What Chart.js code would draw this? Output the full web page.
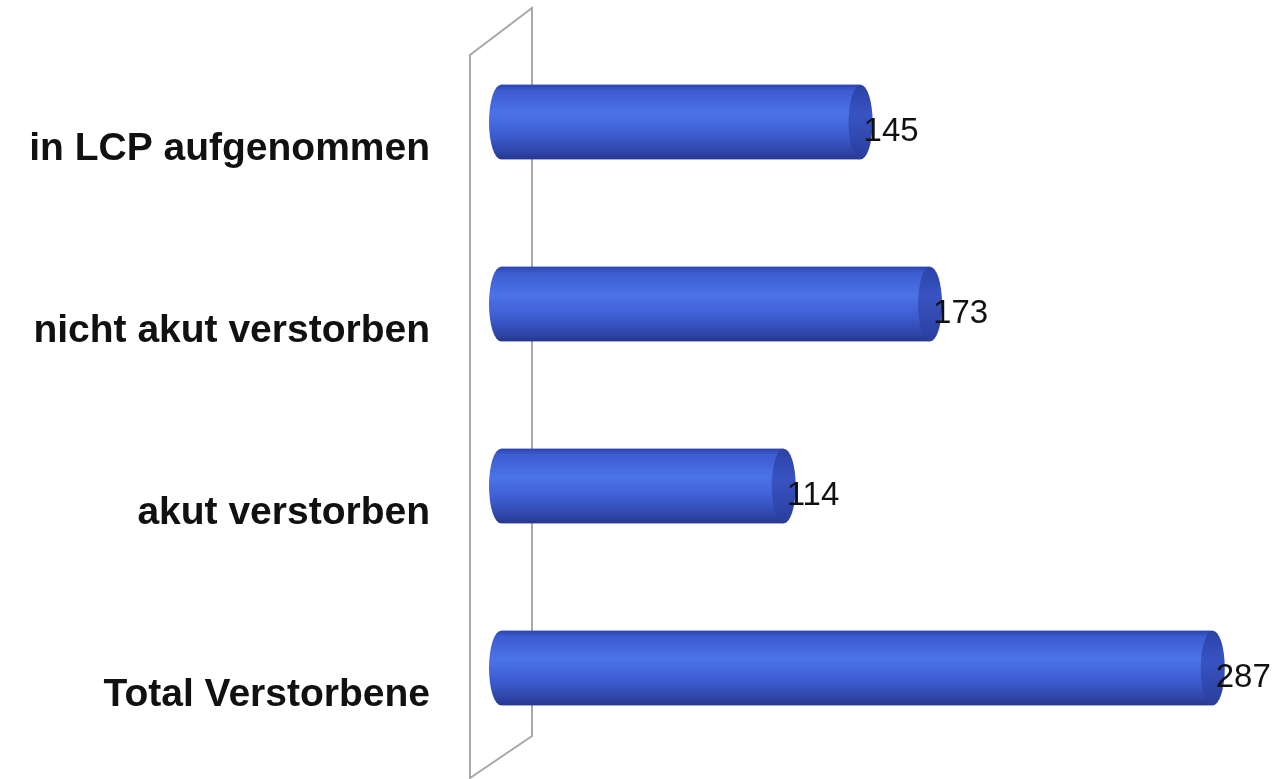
<!DOCTYPE html>
<html>
<head>
<meta charset="utf-8">
<script src="https://cdn.jsdelivr.net/npm/chart.js@4.4.0/dist/chart.umd.min.js"></script>
<style>
  html, body { margin: 0; padding: 0; background: #fff; }
  #wrap { width: 1274px; height: 779px; }
</style>
</head>
<body>
<div id="wrap"><canvas id="deathChart"></canvas></div>
<script>
const categories = ["in LCP aufgenommen", "nicht akut verstorben", "akut verstorben", "Total Verstorbene"]
const counts = [145, 173, 114, 287]

// schräge Rückwand hinter den Balken
const wallPlugin = {
  id: "wall",
  beforeDatasetsDraw(chart) {
    const { ctx, chartArea } = chart
    const front = chartArea.left - 31
    const back = chartArea.left + 31
    ctx.save()
    ctx.strokeStyle = "#a8a8a8"
    ctx.lineWidth = 2
    ctx.beginPath()
    ctx.moveTo(front, chartArea.bottom + 19)
    ctx.lineTo(front, chartArea.top + 24)
    ctx.lineTo(back, chartArea.top - 23)
    ctx.lineTo(back, chartArea.bottom - 23)
    ctx.closePath()
    ctx.stroke()
    ctx.restore()
  },
}

// Balken als Zylinder mit Deckel + Wertbeschriftung
const cylinderPlugin = {
  id: "cylinder",
  afterDatasetsDraw(chart) {
    const { ctx } = chart
    const values = chart.data.datasets[0].data
    const meta = chart.getDatasetMeta(0)
    ctx.save()
    meta.data.forEach((bar, i) => {
      const half = bar.height / 2
      const top = bar.y - half
      const bottom = bar.y + half
      const rx = 12

      const body = ctx.createLinearGradient(0, top, 0, bottom)
      body.addColorStop(0, "#2c44ad")
      body.addColorStop(0.08, "#3c5cd0")
      body.addColorStop(0.38, "#4b73e7")
      body.addColorStop(0.65, "#3e5fd3")
      body.addColorStop(0.9, "#2f45a8")
      body.addColorStop(1, "#25378e")
      ctx.fillStyle = body
      ctx.beginPath()
      ctx.moveTo(bar.base, top)
      ctx.lineTo(bar.x, top)
      ctx.lineTo(bar.x, bottom)
      ctx.lineTo(bar.base, bottom)
      ctx.ellipse(bar.base, bar.y, rx, half, 0, Math.PI / 2, Math.PI * 1.5)
      ctx.closePath()
      ctx.fill()

      const cap = ctx.createLinearGradient(0, top, 0, bottom)
      cap.addColorStop(0, "#2b42a6")
      cap.addColorStop(0.4, "#3853c2")
      cap.addColorStop(1, "#2a3d9c")
      ctx.fillStyle = cap
      ctx.beginPath()
      ctx.ellipse(bar.x, bar.y, rx, half, 0, 0, Math.PI * 2)
      ctx.fill()

      ctx.fillStyle = "#111"
      ctx.font = "33px 'Liberation Sans', Arial, sans-serif"
      ctx.textAlign = "left"
      ctx.textBaseline = "middle"
      ctx.fillText(String(values[i]), bar.x + 3, bar.y + 10)
    })
    ctx.restore()
  },
}

new Chart(document.getElementById("deathChart"), {
  type: "bar",
  data: {
    labels: categories,
    datasets: [
      {
        data: counts,
        backgroundColor: "#4268dc",
        borderWidth: 0,
        barPercentage: 0.41,
        categoryPercentage: 1,
      },
    ],
  },
  options: {
    indexAxis: "y",
    responsive: true,
    maintainAspectRatio: false,
    animation: false,
    layout: {
      padding: { top: 31, bottom: 20, left: 0, right: 29 },
    },
    plugins: {
      legend: { display: false },
      tooltip: { enabled: false },
    },
    scales: {
      x: {
        display: false,
        min: 0,
        max: 300,
      },
      y: {
        grid: { display: false, drawTicks: false },
        border: { display: false },
        ticks: {
          color: "#111",
          font: { family: "'Liberation Sans', Arial, sans-serif", size: 39, weight: "bold" },
          padding: 71,
          labelOffset: 27,
        },
        afterFit(axis) {
          axis.width = 501
          axis.paddingTop = 0
          axis.paddingBottom = 0
        },
      },
    },
  },
  plugins: [wallPlugin, cylinderPlugin],
})
</script>
</body>
</html>
